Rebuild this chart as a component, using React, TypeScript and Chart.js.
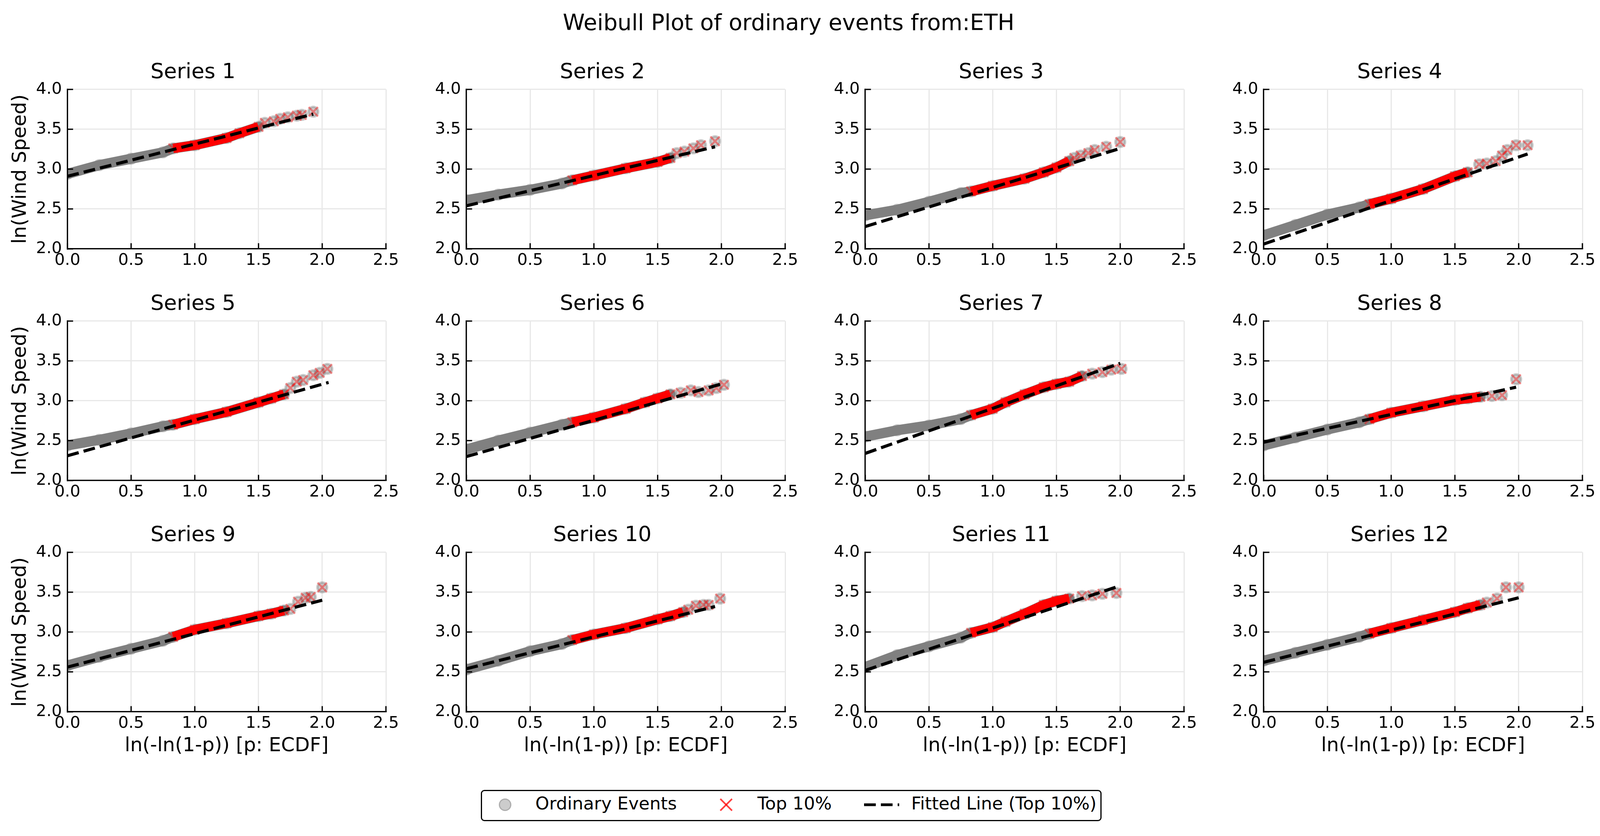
import { useEffect, useRef } from 'react'
import { Chart, registerables, type Plugin } from 'chart.js'

Chart.register(...registerables)

const FONT = "'DejaVu Sans', 'Noto Sans', sans-serif"
Chart.defaults.font.family = FONT
Chart.defaults.color = '#000'

// ---- data ----
const SERIES_NAMES = [
  'Series 1', 'Series 2', 'Series 3', 'Series 4',
  'Series 5', 'Series 6', 'Series 7', 'Series 8',
  'Series 9', 'Series 10', 'Series 11', 'Series 12',
]

const X_RANGE = [0, 2.5]
const Y_RANGE = [2, 4]
const TICK_STEP = 0.5
const TOP_START = 0.83 // ln(-ln(0.1)): start of the top 10%

// dense part of each sample: [ln(-ln(1-p)), ln(wind speed)]
const BAND_1 = [[0, 2.94], [0.25, 3.05], [0.5, 3.13], [0.75, 3.21], [0.83, 3.26], [1.0, 3.30], [1.25, 3.39], [1.35, 3.45], [1.5, 3.53]]
const BAND_2 = [[0, 2.61], [0.25, 2.68], [0.5, 2.74], [0.75, 2.82], [0.83, 2.86], [1.0, 2.92], [1.25, 3.01], [1.5, 3.09], [1.6, 3.14]]
const BAND_3 = [[0, 2.42], [0.25, 2.49], [0.5, 2.59], [0.75, 2.70], [0.83, 2.72], [1.0, 2.79], [1.25, 2.88], [1.4, 2.96], [1.5, 3.02], [1.6, 3.10]]
const BAND_4 = [[0, 2.17], [0.25, 2.30], [0.5, 2.43], [0.75, 2.52], [0.83, 2.56], [1.0, 2.63], [1.25, 2.75], [1.5, 2.91], [1.6, 2.96]]
const BAND_5 = [[0, 2.44], [0.25, 2.51], [0.5, 2.59], [0.75, 2.68], [0.83, 2.70], [1.0, 2.77], [1.25, 2.86], [1.5, 2.98], [1.6, 3.03], [1.7, 3.08]]
const BAND_6 = [[0, 2.39], [0.25, 2.50], [0.5, 2.60], [0.75, 2.70], [0.83, 2.73], [1.0, 2.79], [1.25, 2.90], [1.4, 2.98], [1.5, 3.03], [1.6, 3.08]]
const BAND_7 = [[0, 2.55], [0.25, 2.63], [0.5, 2.69], [0.75, 2.77], [0.83, 2.82], [1.0, 2.90], [1.1, 2.98], [1.25, 3.08], [1.4, 3.17], [1.5, 3.21], [1.6, 3.24], [1.7, 3.31]]
const BAND_8 = [[0, 2.44], [0.25, 2.54], [0.5, 2.64], [0.75, 2.73], [0.83, 2.77], [1.0, 2.85], [1.25, 2.93], [1.5, 3.01], [1.6, 3.03], [1.7, 3.05]]
const BAND_9 = [[0, 2.58], [0.25, 2.69], [0.5, 2.79], [0.75, 2.89], [0.83, 2.94], [1.0, 3.03], [1.25, 3.11], [1.5, 3.20], [1.6, 3.23], [1.7, 3.27]]
const BAND_10 = [[0, 2.53], [0.25, 2.64], [0.5, 2.76], [0.75, 2.85], [0.83, 2.90], [1.0, 2.97], [1.25, 3.05], [1.5, 3.16], [1.6, 3.20], [1.7, 3.25]]
const BAND_11 = [[0, 2.56], [0.25, 2.71], [0.5, 2.82], [0.75, 2.93], [0.83, 2.99], [1.0, 3.06], [1.1, 3.13], [1.25, 3.23], [1.4, 3.34], [1.5, 3.39], [1.6, 3.42]]
const BAND_12 = [[0, 2.64], [0.25, 2.74], [0.5, 2.84], [0.75, 2.94], [0.83, 2.98], [1.0, 3.05], [1.25, 3.15], [1.5, 3.25], [1.6, 3.30], [1.7, 3.34]]

// sparse largest events
const TAIL_1 = [[1.55, 3.58], [1.62, 3.60], [1.67, 3.63], [1.73, 3.65], [1.80, 3.67], [1.84, 3.68], [1.93, 3.72]]
const TAIL_2 = [[1.65, 3.20], [1.71, 3.22], [1.78, 3.26], [1.84, 3.30], [1.95, 3.35]]
const TAIL_3 = [[1.64, 3.14], [1.69, 3.17], [1.75, 3.20], [1.80, 3.24], [1.89, 3.28], [2.00, 3.34]]
const TAIL_4 = [[1.69, 3.06], [1.75, 3.07], [1.82, 3.10], [1.87, 3.17], [1.91, 3.24], [1.98, 3.30], [2.07, 3.30]]
const TAIL_5 = [[1.75, 3.16], [1.80, 3.24], [1.85, 3.26], [1.93, 3.32], [1.98, 3.35], [2.04, 3.40]]
const TAIL_6 = [[1.68, 3.10], [1.76, 3.13], [1.82, 3.11], [1.90, 3.13], [1.96, 3.16], [2.02, 3.20]]
const TAIL_7 = [[1.78, 3.34], [1.86, 3.36], [1.93, 3.39], [2.01, 3.40]]
const TAIL_8 = [[1.79, 3.06], [1.87, 3.07], [1.98, 3.27]]
const TAIL_9 = [[1.75, 3.29], [1.81, 3.38], [1.87, 3.43], [1.91, 3.44], [2.00, 3.56]]
const TAIL_10 = [[1.74, 3.28], [1.80, 3.33], [1.86, 3.34], [1.90, 3.34], [1.99, 3.42]]
const TAIL_11 = [[1.70, 3.45], [1.78, 3.46], [1.86, 3.48], [1.97, 3.49]]
const TAIL_12 = [[1.75, 3.37], [1.83, 3.42], [1.90, 3.56], [2.00, 3.56]]

// fitted line: [y at x=0, x end, y at x end]
const FIT_1 = [2.91, 1.93, 3.69]
const FIT_2 = [2.54, 1.95, 3.28]
const FIT_3 = [2.28, 2.00, 3.26]
const FIT_4 = [2.06, 2.07, 3.19]
const FIT_5 = [2.31, 2.05, 3.23]
const FIT_6 = [2.30, 2.02, 3.22]
const FIT_7 = [2.34, 2.00, 3.47]
const FIT_8 = [2.48, 1.98, 3.17]
const FIT_9 = [2.56, 2.00, 3.40]
const FIT_10 = [2.54, 1.95, 3.32]
const FIT_11 = [2.52, 1.98, 3.57]
const FIT_12 = [2.62, 2.00, 3.43]

const BANDS = [BAND_1, BAND_2, BAND_3, BAND_4, BAND_5, BAND_6, BAND_7, BAND_8, BAND_9, BAND_10, BAND_11, BAND_12]
const TAILS = [TAIL_1, TAIL_2, TAIL_3, TAIL_4, TAIL_5, TAIL_6, TAIL_7, TAIL_8, TAIL_9, TAIL_10, TAIL_11, TAIL_12]
const FITS = [FIT_1, FIT_2, FIT_3, FIT_4, FIT_5, FIT_6, FIT_7, FIT_8, FIT_9, FIT_10, FIT_11, FIT_12]

// ---- layout (pixels of the 4202-wide figure; squeezed to the real viewport width) ----
const FIG_W = 4202
const FIG_H = 2140
const SX = Math.min(1, (typeof window !== 'undefined' && window.innerWidth ? window.innerWidth : FIG_W) / FIG_W)
const sx = (v: number) => v * SX

const AX_LEFT = [177, 1225, 2272, 3319]
const AX_TOP = [229, 822, 1414]
const AX_W = 837
const AX_H = 408
const TITLE_H = 84.8 // 10 + 54*1.2 + 10
const PAD_R = 50

const GRAY = 'rgba(128,128,128,0.4)'
const RED_X = 'rgba(255,0,0,0.4)'

const inwardTicks: Plugin = {
  id: 'inwardTicks',
  afterDraw(chart) {
    const { ctx, chartArea: a } = chart
    const x = chart.scales.x
    const y = chart.scales.y
    ctx.save()
    ctx.strokeStyle = '#000'
    ctx.lineWidth = 3.3
    ctx.beginPath()
    x.ticks.forEach(t => {
      const px = x.getPixelForValue(t.value)
      ctx.moveTo(px, a.bottom)
      ctx.lineTo(px, a.bottom - 14.6)
    })
    y.ticks.forEach(t => {
      const py = y.getPixelForValue(t.value)
      ctx.moveTo(a.left, py)
      ctx.lineTo(a.left + 14.6, py)
    })
    ctx.stroke()
    ctx.restore()
  },
}

const toPts = (arr: number[][]) => arr.map(([x, y]) => ({ x, y }))

function Panel({ idx }: { idx: number }) {
  const canvasRef = useRef<HTMLCanvasElement>(null)
  const chartRef = useRef<Chart | null>(null)
  const col = idx % 4
  const row = Math.floor(idx / 4)
  const yW = col === 0 ? sx(AX_LEFT[0]) : 120
  const xH = row === 2 ? 130 : 70
  const left = sx(AX_LEFT[col]) - yW
  const top = AX_TOP[row] - TITLE_H
  const width = Math.round(yW + sx(AX_W) + PAD_R)
  const height = Math.round(TITLE_H + AX_H + xH)

  useEffect(() => {
    if (!canvasRef.current) return
    const band = BANDS[idx]
    const tail = TAILS[idx]
    const fit = FITS[idx]
    const topBand = band.filter(([x]) => x >= TOP_START)

    chartRef.current?.destroy()
    chartRef.current = new Chart(canvasRef.current, {
      type: 'scatter',
      data: {
        datasets: [
          {
            label: 'Fitted Line (Top 10%)',
            data: [{ x: 0, y: fit[0] }, { x: fit[1], y: fit[2] }],
            showLine: true,
            borderColor: '#000',
            borderWidth: 8,
            borderDash: [30, 13],
            borderCapStyle: 'butt',
            pointRadius: 0,
            order: 0,
            clip: 0,
          },
          {
            label: 'Top 10%',
            data: toPts([...topBand, ...tail]),
            pointStyle: 'crossRot',
            pointRadius: 17,
            pointBorderColor: RED_X,
            pointBackgroundColor: RED_X,
            pointBorderWidth: 5,
            order: 1,
            clip: 0,
          },
          {
            label: 'top band',
            data: toPts(topBand),
            showLine: true,
            borderColor: '#ff0000',
            borderWidth: 24,
            borderCapStyle: 'butt',
            borderJoinStyle: 'round',
            pointRadius: 0,
            order: 2,
            clip: 0,
          },
          {
            label: 'Ordinary Events',
            data: toPts([...band, ...tail]),
            pointStyle: 'circle',
            pointRadius: 12.5,
            pointBackgroundColor: GRAY,
            pointBorderColor: GRAY,
            pointBorderWidth: 6,
            order: 3,
            clip: 0,
          },
          {
            label: 'ordinary band',
            data: toPts(band),
            showLine: true,
            borderColor: '#808080',
            borderWidth: 26,
            borderCapStyle: 'round',
            borderJoinStyle: 'round',
            pointRadius: 0,
            order: 4,
            clip: 0,
          },
        ],
      },
      options: {
        responsive: false,
        animation: false,
        devicePixelRatio: 1,
        layout: { padding: { left: 0, top: 0, right: PAD_R, bottom: 0 } },
        plugins: {
          legend: { display: false },
          tooltip: { enabled: false },
          title: {
            display: true,
            text: SERIES_NAMES[idx],
            color: '#000',
            font: { family: FONT, size: 54, weight: 'normal', lineHeight: 1.2 },
            padding: { top: 10, bottom: 10 },
          },
        },
        scales: {
          x: {
            type: 'linear',
            min: X_RANGE[0],
            max: X_RANGE[1],
            afterFit: (s) => { s.height = xH },
            ticks: {
              stepSize: TICK_STEP,
              autoSkip: false,
              maxRotation: 0,
              padding: 5,
              color: '#000',
              font: { family: FONT, size: 41.7, lineHeight: 1.2 },
              callback: (v) => Number(v).toFixed(1),
            },
            grid: { color: '#e8e8e8', lineWidth: 3, drawTicks: false },
            border: { display: true, color: '#000', width: 3.3, z: 1 },
            title: {
              display: row === 2,
              text: 'ln(-ln(1-p)) [p: ECDF]',
              color: '#000',
              font: { family: FONT, size: 50, lineHeight: 1.2 },
              padding: { top: 0, bottom: 12 },
            },
          },
          y: {
            type: 'linear',
            min: Y_RANGE[0],
            max: Y_RANGE[1],
            afterFit: (s) => { s.width = yW },
            ticks: {
              stepSize: TICK_STEP,
              autoSkip: false,
              padding: 14,
              color: '#000',
              font: { family: FONT, size: 41.7, lineHeight: 1.2 },
              callback: (v) => Number(v).toFixed(1),
            },
            grid: { color: '#e8e8e8', lineWidth: 3, drawTicks: false },
            border: { display: true, color: '#000', width: 3.3, z: 1 },
            title: {
              display: col === 0,
              text: 'ln(Wind Speed)',
              color: '#000',
              font: { family: FONT, size: 50, lineHeight: 1.2 },
              padding: { top: sx(54) - 30, bottom: 0 },
            },
          },
        },
      },
      plugins: [inwardTicks],
    })
    return () => { chartRef.current?.destroy(); chartRef.current = null }
  }, [idx, xH, yW])

  return (
    <canvas ref={canvasRef} width={width} height={height}
      style={{ position: 'absolute', left, top, width, height }} />
  )
}

function Legend() {
  const text = { position: 'absolute' as const, top: 7.4, fontSize: 45, lineHeight: '50px', whiteSpace: 'nowrap' as const }
  return (
    <div style={{
      position: 'absolute', left: sx(1263), top: 2022, width: sx(1630), height: 80,
      border: '3px solid #000', borderRadius: 9, boxSizing: 'border-box', background: '#fff',
    }}>
      <div style={{
        position: 'absolute', left: sx(60) - 16, top: 34.5 - 16, width: 32, height: 32, borderRadius: '50%',
        background: GRAY, boxShadow: `inset 0 0 0 3px ${GRAY}`,
      }} />
      <span style={{ ...text, left: sx(140) }}>Ordinary Events</span>
      <svg style={{ position: 'absolute', left: sx(641) - 17, top: 34.5 - 17 }} width={34} height={34}>
        <line x1={2} y1={2} x2={32} y2={32} stroke="rgba(255,0,0,0.75)" strokeWidth={4} />
        <line x1={32} y1={2} x2={2} y2={32} stroke="rgba(255,0,0,0.75)" strokeWidth={4} />
      </svg>
      <span style={{ ...text, left: sx(723) }}>Top 10%</span>
      <svg style={{ position: 'absolute', left: sx(1003), top: 34.5 - 5 }} width={90} height={10}>
        <line x1={0} y1={5} x2={90} y2={5} stroke="#000" strokeWidth={7} strokeDasharray="30 13" />
      </svg>
      <span style={{ ...text, left: sx(1127) }}>Fitted Line (Top 10%)</span>
    </div>
  )
}

export default function App() {
  return (
    <div style={{
      position: 'absolute', left: 0, top: 0, width: sx(FIG_W), height: FIG_H,
      background: '#fff', fontFamily: FONT, color: '#000', overflow: 'hidden',
    }}>
      <div style={{
        position: 'absolute', left: sx(2071), top: 28.8, transform: 'translateX(-50%)',
        fontSize: 57, lineHeight: '57px', whiteSpace: 'nowrap',
      }}>
        Weibull Plot of ordinary events from:ETH
      </div>
      {SERIES_NAMES.map((_, i) => <Panel key={i} idx={i} />)}
      <Legend />
    </div>
  )
}
